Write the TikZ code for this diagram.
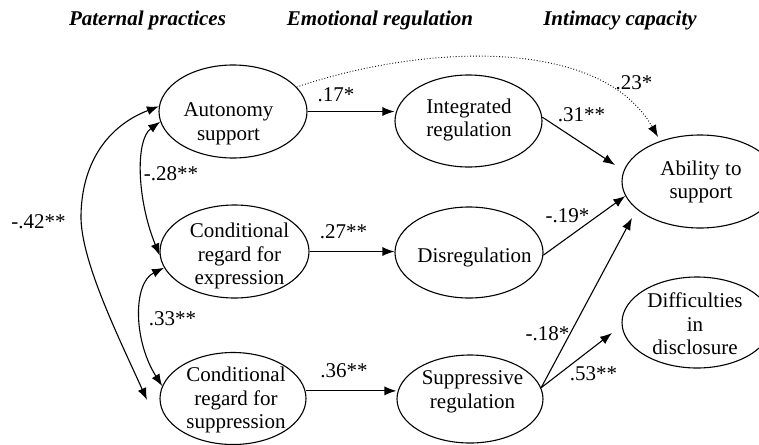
\documentclass[tikz,border=0pt]{standalone}
\usepackage{fontspec}
\setmainfont{Liberation Serif}
\usetikzlibrary{arrows.meta,shapes.geometric}
\begin{document}
\begin{tikzpicture}[x=1pt,y=-1pt,
  ell/.style={draw, ellipse, line width=1.1pt, inner sep=0pt},
  txt/.style={align=center, inner sep=0pt, font=\fontsize{21}{23.5}\selectfont},
  lab/.style={inner sep=0pt, font=\fontsize{21}{23.5}\selectfont},
  head/.style={inner sep=0pt, font=\fontsize{21}{24}\selectfont\bfseries\itshape},
  tip/.style={Latex[length=12pt,width=9pt]},
  arr/.style={line width=1.1pt, -{Latex[length=12pt,width=9pt]}},
  cov/.style={line width=1.1pt, {Latex[length=12pt,width=9pt]}-{Latex[length=12pt,width=9pt]}},
  dot/.style={line width=0.9pt, dotted, -{Latex[length=12pt,width=9pt]}},
]
\useasboundingbox (0,0) rectangle (759,444);
\clip (0,0) rectangle (759,444);

% headers
\node[head] (h1) at (147.5,20.5) {Paternal practices};
\node[head] (h2) at (380,20.5) {Emotional regulation};
\node[head] (h3) at (620,20.5) {Intimacy capacity};

% ellipses
\node[ell, minimum width=148pt, minimum height=93pt] (auto) at (233,111.5) {};
\node[ell, minimum width=149pt, minimum height=93pt] (cexp) at (234.5,251.5) {};
\node[ell, minimum width=146pt, minimum height=92pt] (csup) at (233,398.5) {};
\node[ell, minimum width=147pt, minimum height=92pt] (integ) at (468.5,121) {};
\node[ell, minimum width=148pt, minimum height=91pt] (dis) at (469,252.5) {};
\node[ell, minimum width=146pt, minimum height=88pt] (supp) at (470,399) {};
\node[ell, minimum width=156pt, minimum height=93pt] (abil) at (700,181.5) {};
\node[ell, minimum width=150pt, minimum height=91pt] (diff) at (697,322.5) {};

% texts
\node[txt] (tauto) at (228.5,123.7) {Autonomy\\support};
\node[txt] (tcexp) at (239.5,256.2) {Conditional\\regard for\\expression};
\node[txt] (tcsup) at (236,400) {Conditional\\regard for\\suppression};
\node[txt] (tinteg) at (469,120.2) {Integrated\\regulation};
\node[txt] (tdis) at (474.5,257.2) {Disregulation};
\node[txt] (tsupp) at (472.5,391.7) {Suppressive\\regulation};
\node[txt] (tabil) at (701,181.7) {Ability to\\support};
\node[txt] (tdiff) at (695,323.9) {Difficulties\\in\\disclosure};

% free ends
\coordinate (e31) at (615,165);
\coordinate (e18) at (632,218);
\coordinate (e53) at (612,333);
\coordinate (e23) at (658,137);
\coordinate (e42) at (147,400);

% straight paths
\draw[arr] (auto.east) -- (integ.west |- auto.east);
\draw[arr] (cexp.east) -- (dis.west |- cexp.east);
\draw[arr] (csup.6) -- (supp.west |- csup.6);
\draw[arr] (integ.3) -- (e31);
\draw[arr] (dis.358) -- (abil.191);
\draw[arr] (supp.9) -- (e18);
\draw[arr] (supp.9) -- (e53);

% dotted path
\draw[dot] (auto.21) .. controls (420,45) and (600,35) .. (e23);

% covariances
\draw[cov] (auto.176) .. controls (110,125) and (82,160) .. (81,215)
   .. controls (80,260) and (120,340) .. (e42);
\draw[cov] (auto.188) .. controls (135,140) and (137,200) .. (cexp.183);
\draw[cov] (cexp.193) .. controls (133,283) and (133,340) .. (csup.170);

% labels
\node[lab] (l17) at (336,95) {.17*};
\node[lab] (l27) at (343.5,232) {.27**};
\node[lab] (l36) at (344,370.5) {.36**};
\node[lab] (l31) at (581.5,115) {.31**};
\node[lab] (l23) at (634,82.5) {.23*};
\node[lab] (l19) at (567.5,216) {-.19*};
\node[lab] (l18) at (547.5,333.5) {-.18*};
\node[lab] (l53) at (593.5,373.5) {.53**};
\node[lab] (l28) at (171,174) {-.28**};
\node[lab] (l33) at (172.5,319) {.33**};
\node[lab] (l42) at (38.5,221.5) {-.42**};
\end{tikzpicture}
\end{document}
